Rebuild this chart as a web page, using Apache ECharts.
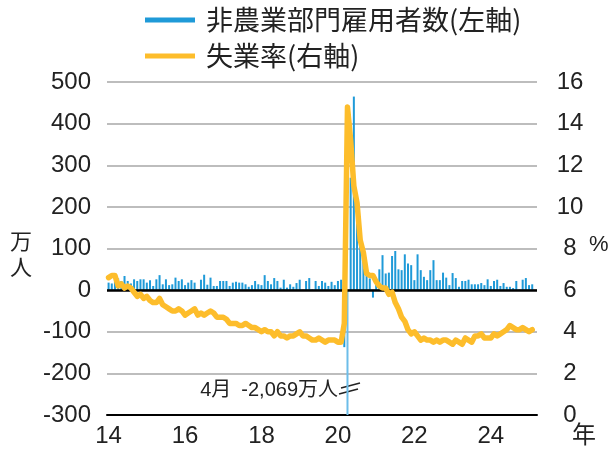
<!DOCTYPE html>
<html>
<head>
<meta charset="utf-8">
<script src="https://cdn.jsdelivr.net/npm/echarts@6/dist/echarts.min.js"></script>
<style>
  html, body { margin: 0; padding: 0; background: #fff; }
  #chart { width: 615px; height: 451px; }
</style>
</head>
<body>
<div id="chart"></div>
<script>
// months Jan 2014 .. Mar 2025
const months = [];
for (let y = 2014; y <= 2025; y++) {
  for (let m = 1; m <= 12; m++) {
    if (y === 2025 && m > 3) break;
    months.push(y + '-' + (m < 10 ? '0' + m : m));
  }
}

// nonfarm payrolls, monthly change (万人)
const payrolls = [
  18, 16, 27, 28, 22, 34, 22, 16, 26, 22, 26, 26,       // 2014
  18, 24, 10, 26, 36, 14, 26, 12, 14, 30, 22, 26,       // 2015
  12, 18, 24, 18, 2, 25, 37, 13, 30, 10, 10, 22,        // 2016
  22, 22, 10, 18, 20, 18, 18, 14, 8, 12, 22, 14,        // 2017
  12, 36, 22, 14, 29, 22, 6, 25, 6, 14, 8, 17,          // 2018
  25, 1, 22, 29, 2, 22, 10, 22, 18, 10, 20, 12,         // 2019
  22, 25, -137, -2069, 270, 465, 175, 150, 70, 42, 28, -18, // 2020
  24, 50, 84, 40, 42, 82, 94, 50, 48, 86, 64, 60,       // 2021
  24, 86, 48, 32, 24, 48, 72, 24, 24, 42, 30, 12,       // 2022
  41, 29, 8, 22, 22, 25, 14, 14, 14, 17, 12, 26,        // 2023
  10, 22, 25, 10, 17, 8, 8, 5, 22, 2, 25, 29,           // 2024
  12, 14                                                 // 2025
];

// unemployment rate (%)
const unemployment = [
  6.6, 6.7, 6.7, 6.2, 6.3, 6.1, 6.2, 6.1, 5.9, 5.7, 5.8, 5.6,
  5.7, 5.5, 5.4, 5.4, 5.6, 5.3, 5.2, 5.1, 5.0, 5.0, 5.1, 5.0,
  4.8, 4.9, 5.0, 5.1, 4.8, 4.9, 4.8, 4.9, 5.0, 4.9, 4.7, 4.7,
  4.7, 4.6, 4.4, 4.4, 4.4, 4.3, 4.3, 4.4, 4.3, 4.2, 4.2, 4.1,
  4.0, 4.1, 4.0, 4.0, 3.8, 4.0, 3.8, 3.8, 3.7, 3.8, 3.8, 3.9,
  4.0, 3.8, 3.8, 3.7, 3.6, 3.6, 3.7, 3.6, 3.5, 3.6, 3.6, 3.6,
  3.5, 3.5, 4.4, 14.8, 13.2, 11.0, 10.2, 8.4, 7.8, 6.8, 6.7, 6.7,
  6.4, 6.2, 6.1, 6.1, 5.8, 5.9, 5.4, 5.1, 4.7, 4.5, 4.1, 3.9,
  4.0, 3.8, 3.6, 3.7, 3.6, 3.6, 3.5, 3.6, 3.5, 3.6, 3.6, 3.5,
  3.4, 3.6, 3.5, 3.4, 3.7, 3.6, 3.5, 3.8, 3.8, 3.9, 3.7, 3.7,
  3.7, 3.9, 3.8, 3.9, 4.0, 4.1, 4.3, 4.2, 4.1, 4.1, 4.2, 4.1,
  4.0, 4.1
];

const BLUE = '#1f9ad8';
const YELLOW = '#fdbd2b';
const FONT = '"Liberation Sans", Arial, "Noto Sans CJK JP", sans-serif';
const CJK = '"Noto Sans CJK JP", sans-serif';

const chart = echarts.init(document.getElementById('chart'));

// the off-scale April 2020 bar is drawn lighter, as in the original
const barData = payrolls.map((v) => (v < -300 ? { value: v, itemStyle: { color: '#6cbde9' } } : v));

chart.setOption({
  animation: false,
  textStyle: { fontFamily: FONT },
  grid: { left: 107, right: 78, top: 82, bottom: 36, containLabel: false },
  legend: {
    orient: 'vertical',
    left: 140,
    top: 1,
    icon: 'rect',
    itemWidth: 50,
    itemHeight: 5,
    itemGap: 8,
    textStyle: { fontFamily: CJK, fontSize: 27, color: '#222', lineHeight: 28, padding: [0, 0, 0, 6] },
    data: ['非農業部門雇用者数(左軸)', '失業率(右軸)']
  },
  xAxis: {
    type: 'category',
    data: months,
    boundaryGap: true,
    axisLine: { onZero: false, lineStyle: { color: '#000', width: 2 } },
    axisTick: { show: false },
    axisLabel: {
      interval: (i) => i % 24 === 0,
      formatter: (v) => v.slice(2, 4),
      fontSize: 24,
      color: '#222',
      margin: 9
    },
    splitLine: { show: false }
  },
  yAxis: [
    {
      type: 'value',
      min: -300,
      max: 500,
      interval: 100,
      axisLine: { show: false },
      axisTick: { show: false },
      axisLabel: { fontSize: 24, color: '#222', margin: 16 },
      splitLine: { lineStyle: { color: '#bdbdbd', width: 2 } }
    },
    {
      type: 'value',
      min: 0,
      max: 16,
      interval: 2,
      axisLine: { show: false },
      axisTick: { show: false },
      axisLabel: { fontSize: 24, color: '#222', margin: 33, align: 'center' },
      splitLine: { show: false }
    }
  ],
  series: [
    {
      name: '非農業部門雇用者数(左軸)',
      type: 'bar',
      data: barData,
      barWidth: 2,
      itemStyle: { color: BLUE },
      clip: true,
      markLine: {
        silent: true,
        symbol: 'none',
        label: { show: false },
        lineStyle: { color: '#000', width: 2.5, type: 'solid' },
        data: [{ yAxis: 0 }]
      }
    },
    {
      name: '失業率(右軸)',
      type: 'line',
      yAxisIndex: 1,
      data: unemployment,
      showSymbol: false,
      z: 5,
      itemStyle: { color: YELLOW },
      lineStyle: { color: YELLOW, width: 5.5, cap: 'round', join: 'round' }
    }
  ],
  graphic: [
    {
      type: 'text',
      left: 10, top: 228,
      style: { text: '万\n人', font: '22px ' + CJK, fill: '#222', lineHeight: 26 }
    },
    {
      type: 'text',
      left: 589, top: 234,
      style: { text: '%', font: '22px ' + FONT, fill: '#222' }
    },
    {
      type: 'text',
      left: 572, top: 422,
      style: { text: '年', font: '24px ' + CJK, fill: '#222' }
    },
    {
      type: 'text',
      right: 615 - 338, top: 380,
      style: { text: '4月\u2002-2,069万人', font: '20px ' + FONT, fill: '#222' }
    },
    {
      type: 'line',
      shape: { x1: 339, y1: 394, x2: 358, y2: 389 },
      style: { stroke: '#222', lineWidth: 1.5 }
    },
    {
      type: 'line',
      shape: { x1: 341, y1: 388, x2: 360, y2: 383 },
      style: { stroke: '#222', lineWidth: 1.5 }
    }
  ]
});
</script>
</body>
</html>
